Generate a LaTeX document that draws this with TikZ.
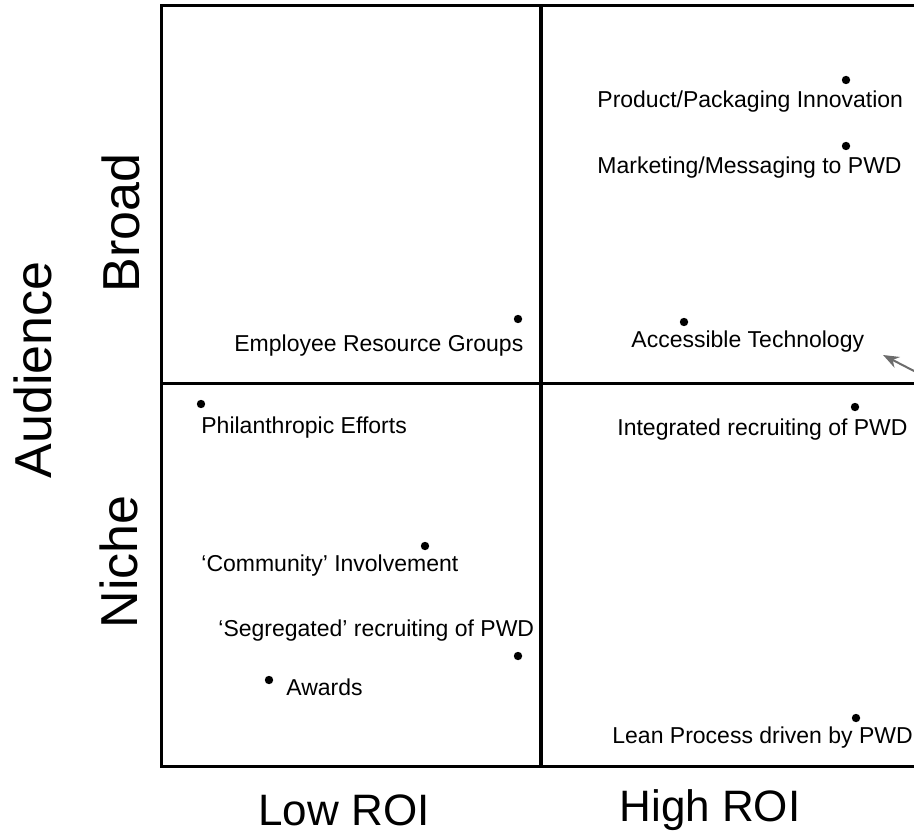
\documentclass[tikz,border=0pt]{standalone}
\usepackage{fontspec}
\setmainfont{Liberation Sans}
\usetikzlibrary{arrows.meta}

\begin{document}
\begin{tikzpicture}[x=0.5pt, y=-0.5pt,
    dot/.style={circle, fill=black, inner sep=0pt, minimum size=4.2pt},
    item/.style={anchor=west, inner sep=0pt, font=\fontsize{11.5}{13}\selectfont},
    axis/.style={font=\fontsize{22}{26}\selectfont},
    side/.style={rotate=90, font=\fontsize{26}{30}\selectfont}]
\useasboundingbox (0,0) rectangle (914,839);
\begin{scope}
\clip (0,0) rectangle (914,839);
% quadrant frame
\draw[line width=1.5pt] (161,6) rectangle (925,766);
\draw[line width=1.8pt] (541,6) -- (541,766);
\draw[line width=1.5pt] (161,383) -- (925,383);

% Broad / High ROI
\node[dot] (prodpt) at (846,80) {};
\node[item] (prod) at (597,102) {Product/Packaging Innovation};
\node[dot] (markpt) at (846,146) {};
\node[item] (mark) at (597,168) {Marketing/Messaging to PWD};
\node[dot] (accpt) at (684,322) {};
\node[item] (acc) at (631,342) {Accessible Technology};

% Broad / Low ROI
\node[dot] (ergpt) at (518,319) {};
\node[item] (erg) at (234,346) {Employee Resource Groups};

% Niche / Low ROI
\node[dot] (philpt) at (201,404) {};
\node[item] (phil) at (201,428) {Philanthropic Efforts};
\node[dot] (commpt) at (425,546) {};
\node[item] (comm) at (201,566) {`Community' Involvement};
\node[item] (seg) at (218,631) {`Segregated' recruiting of PWD};
\node[dot] (segpt) at (518,656) {};
\node[dot] (awardpt) at (269,680) {};
\node[item] (award) at (286,687) {Awards};

% Niche / High ROI
\node[dot] (integpt) at (855,407) {};
\node[item] (integ) at (617,430) {Integrated recruiting of PWD};
\node[dot] (leanpt) at (856,718) {};
\node[item] (lean) at (612,738) {Lean Process driven by PWD};

% pointer to Accessible Technology
\coordinate (ptrtail) at (945,387);
\coordinate (ptrtip) at (883,355);
\draw[gray!85!black, line width=1pt, -{Stealth[length=8pt, width=6pt]}] (ptrtail) -- (ptrtip);
\end{scope}

% axis labels
\node[axis] (low) at (344,810) {Low ROI};
\node[axis] (high) at (710,810) {High ROI};
\node[side] (broad) at (121,223) {Broad};
\node[side] (niche) at (119,562) {Niche};
\node[side] (aud) at (33,370) {Audience};
\end{tikzpicture}
\end{document}
